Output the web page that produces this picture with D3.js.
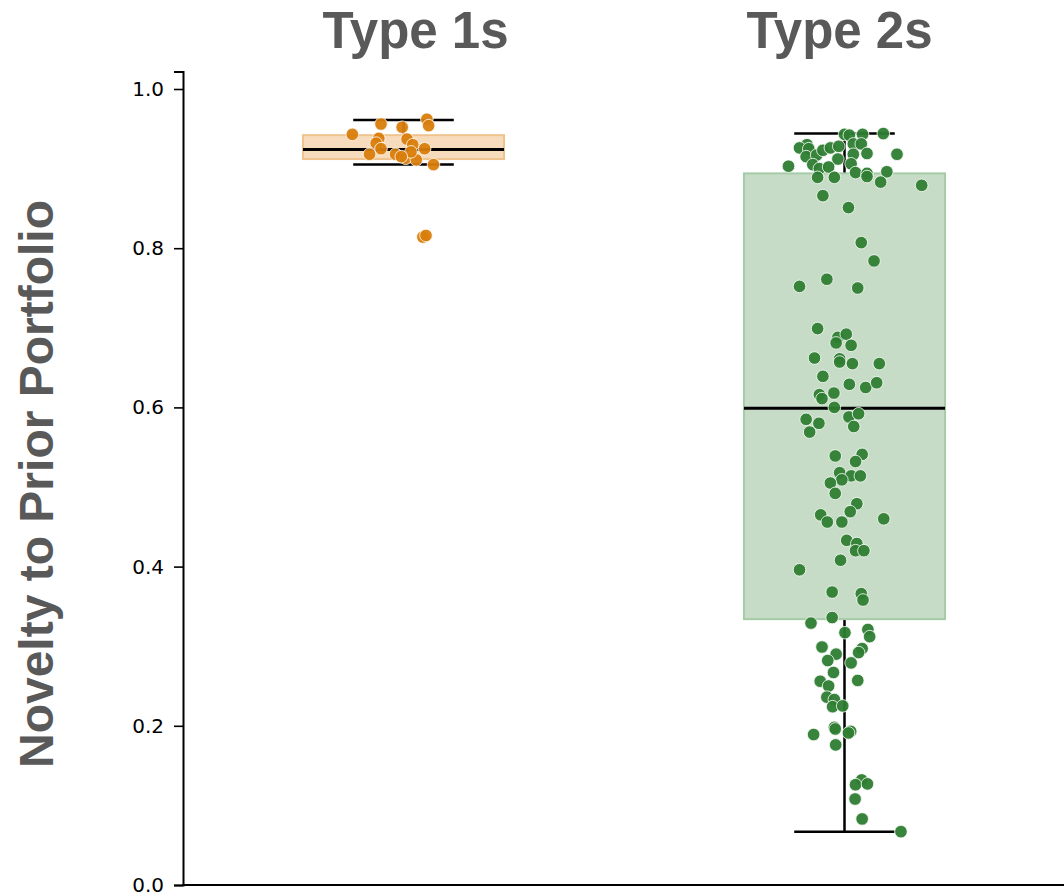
<!DOCTYPE html>
<html>
<head>
<meta charset="utf-8">
<script src="https://cdn.jsdelivr.net/npm/d3@7"></script>
<style>
  body { margin: 0; background: #ffffff; }
  .tick text { font-family: "DejaVu Sans", sans-serif; }
</style>
</head>
<body>
<div id="chart"></div>
<script>
// ********************************************************************************
// 1. Data
// ********************************************************************************

var categories = ["Type 1s", "Type 2s"];
var yTicks = [0.0, 0.2, 0.4, 0.6, 0.8, 1.0];

// box statistics per category
var whiskerLow  = [0.905, 0.067];
var quartile1   = [0.912, 0.334];
var medians     = [0.924, 0.599];
var quartile3   = [0.942, 0.894];
var whiskerHigh = [0.961, 0.944];

// Type 1s points (value, jitter in category units)
var type1Values = [0.943, 0.956, 0.952, 0.962, 0.954, 0.938, 0.932, 0.925, 0.918, 0.937,
                   0.930, 0.925, 0.918, 0.913, 0.911, 0.905, 0.921, 0.915, 0.814, 0.816];
var type1Jitter = [-0.116, -0.051, -0.003, 0.053, 0.057, -0.056, -0.062, -0.051, -0.077, 0.008,
                   0.021, 0.048, -0.018, 0.005, 0.029, 0.068, 0.017, -0.005, 0.044, 0.051];

// Type 2s points
var type2Values = [0.943, 0.942, 0.943, 0.944, 0.930, 0.926, 0.925, 0.915, 0.917, 0.923,
                   0.926, 0.928, 0.931, 0.931, 0.919, 0.918, 0.912, 0.905, 0.900, 0.902,
                   0.906, 0.895, 0.894, 0.890, 0.896, 0.918, 0.883, 0.879, 0.903, 0.889,
                   0.889, 0.866, 0.851, 0.807, 0.784, 0.752, 0.761, 0.750, 0.699, 0.688,
                   0.692, 0.681, 0.678, 0.662, 0.661, 0.657, 0.655, 0.655, 0.639, 0.629,
                   0.625, 0.631, 0.616, 0.611, 0.618, 0.600, 0.585, 0.580, 0.588, 0.592,
                   0.576, 0.569, 0.539, 0.541, 0.532, 0.518, 0.514, 0.514, 0.509, 0.505,
                   0.492, 0.479, 0.469, 0.465, 0.456, 0.456, 0.460, 0.433, 0.429, 0.420,
                   0.420, 0.408, 0.396, 0.368, 0.366, 0.358, 0.336, 0.329, 0.317, 0.321,
                   0.312, 0.299, 0.297, 0.292, 0.290, 0.282, 0.279, 0.267, 0.256, 0.250,
                   0.257, 0.236, 0.233, 0.224, 0.225, 0.198, 0.196, 0.189, 0.193, 0.191,
                   0.176, 0.132, 0.126, 0.127, 0.108, 0.083, 0.067];
var type2Jitter = [0.000, 0.011, 0.041, 0.088, -0.085, -0.102, -0.081, -0.087, -0.063, -0.049,
                   -0.032, -0.013, 0.020, 0.038, 0.051, 0.020, -0.015, -0.072, -0.057, -0.036,
                   0.015, 0.025, 0.051, 0.051, 0.096, 0.119, 0.082, 0.175, -0.127, -0.061,
                   -0.023, -0.049, 0.009, 0.038, 0.067, -0.102, -0.040, 0.030, -0.061, -0.015,
                   0.004, -0.019, 0.015, -0.068, -0.011, -0.011, 0.018, 0.079, -0.049, 0.011,
                   0.048, 0.073, -0.057, -0.051, -0.024, -0.023, -0.087, -0.058, 0.010, 0.032,
                   0.021, -0.079, -0.021, 0.040, 0.025, -0.011, 0.015, 0.036, -0.006, -0.032,
                   -0.021, 0.028, 0.013, -0.054, -0.039, -0.006, 0.089, 0.005, 0.028, 0.025,
                   0.044, -0.009, -0.102, -0.028, 0.038, 0.042, -0.028, -0.076, 0.001, 0.053,
                   0.057, -0.051, 0.040, 0.032, -0.019, -0.038, 0.015, -0.025, -0.055, -0.036,
                   0.030, -0.040, -0.023, -0.027, -0.004, -0.023, -0.021, -0.070, 0.014, 0.009,
                   -0.020, 0.039, 0.025, 0.052, 0.024, 0.040, 0.128];

var pointColors = ["#d97d0b", "#2e7d32"];
var boxFills    = ["#f6dcbc", "#c6dcc6"];
var boxEdges    = ["#efc38d", "#a6cba7"];

// ********************************************************************************
// 2. Set up chart
// ********************************************************************************

var svgWidth = 1064;
var svgHeight = 896;

var svg = d3.select("#chart")
    .append("svg")
    .attr("width", svgWidth)
    .attr("height", svgHeight);

var xScale = d3.scaleLinear()
    .domain([-0.5, 1.5])
    .range([183, 1065]);

var yScale = d3.scaleLinear()
    .domain([0, 1.022])
    .range([885, 885 - 1.022 * 796]);

var boxWidth = 0.456;
var capWidth = 0.228;

// ********************************************************************************
// 3. Boxes and whiskers
// ********************************************************************************

var boxGroup = svg.append("g");

categories.forEach(function (cat, i) {
    var cx = xScale(i);
    var halfBox = (xScale(boxWidth) - xScale(0)) / 2;
    var halfCap = (xScale(capWidth) - xScale(0)) / 2;

    // whisker lines
    boxGroup.append("line")
        .attr("x1", cx).attr("x2", cx)
        .attr("y1", yScale(whiskerHigh[i])).attr("y2", yScale(quartile3[i]))
        .attr("stroke", "#000").attr("stroke-width", 2.5);
    boxGroup.append("line")
        .attr("x1", cx).attr("x2", cx)
        .attr("y1", yScale(quartile1[i])).attr("y2", yScale(whiskerLow[i]))
        .attr("stroke", "#000").attr("stroke-width", 2.5);

    // caps
    [whiskerHigh[i], whiskerLow[i]].forEach(function (v) {
        boxGroup.append("line")
            .attr("x1", cx - halfCap).attr("x2", cx + halfCap)
            .attr("y1", yScale(v)).attr("y2", yScale(v))
            .attr("stroke", "#000").attr("stroke-width", 2.5);
    });

    // box
    boxGroup.append("rect")
        .attr("x", cx - halfBox)
        .attr("y", yScale(quartile3[i]))
        .attr("width", halfBox * 2)
        .attr("height", yScale(quartile1[i]) - yScale(quartile3[i]))
        .attr("fill", boxFills[i])
        .attr("stroke", boxEdges[i])
        .attr("stroke-width", 2);

    // median
    boxGroup.append("line")
        .attr("x1", cx - halfBox).attr("x2", cx + halfBox)
        .attr("y1", yScale(medians[i])).attr("y2", yScale(medians[i]))
        .attr("stroke", "#000").attr("stroke-width", 3);
});

// ********************************************************************************
// 4. Points
// ********************************************************************************

var pointSets = [
    type1Values.map(function (v, k) { return { cat: 0, value: v, jitter: type1Jitter[k] }; }),
    type2Values.map(function (v, k) { return { cat: 1, value: v, jitter: type2Jitter[k] }; })
];

pointSets.forEach(function (set, i) {
    svg.append("g")
        .selectAll("circle")
        .data(set)
        .enter()
        .append("circle")
        .attr("cx", function (d) { return xScale(d.cat + d.jitter); })
        .attr("cy", function (d) { return yScale(d.value); })
        .attr("r", 6.3)
        .attr("fill", pointColors[i])
        .attr("fill-opacity", 0.95)
        .attr("stroke", "#ffffff")
        .attr("stroke-width", 0.8);
});

// ********************************************************************************
// 5. Axes and labels
// ********************************************************************************

var leftAxis = d3.axisLeft(yScale)
    .tickValues(yTicks)
    .tickFormat(d3.format(".1f"))
    .tickSize(9)
    .tickPadding(10);

var yAxisGroup = svg.append("g")
    .attr("transform", "translate(183, 0)")
    .call(leftAxis);

yAxisGroup.select(".domain").attr("stroke-width", 2);
yAxisGroup.selectAll(".tick line").attr("stroke-width", 1.6);
yAxisGroup.selectAll(".tick text")
    .attr("font-size", 20)
    .attr("fill", "#000");

// bottom spine
svg.append("line")
    .attr("x1", 182).attr("x2", svgWidth)
    .attr("y1", yScale(0)).attr("y2", yScale(0))
    .attr("stroke", "#000").attr("stroke-width", 2);

// column titles
var titleShift = [12, -5];
categories.forEach(function (cat, i) {
    svg.append("text")
        .attr("x", xScale(i) + titleShift[i])
        .attr("y", 48)
        .attr("text-anchor", "middle")
        .attr("font-family", "'Liberation Sans', Arial, sans-serif")
        .attr("font-weight", "bold")
        .attr("font-size", 51)
        .attr("fill", "#595959")
        .text(cat);
});

// y axis label
svg.append("text")
    .attr("transform", "translate(53, 484) rotate(-90)")
    .attr("text-anchor", "middle")
    .attr("font-family", "'Liberation Sans', Arial, sans-serif")
    .attr("font-weight", "bold")
    .attr("font-size", 48)
    .attr("fill", "#595959")
    .text("Novelty to Prior Portfolio");
</script>
</body>
</html>
